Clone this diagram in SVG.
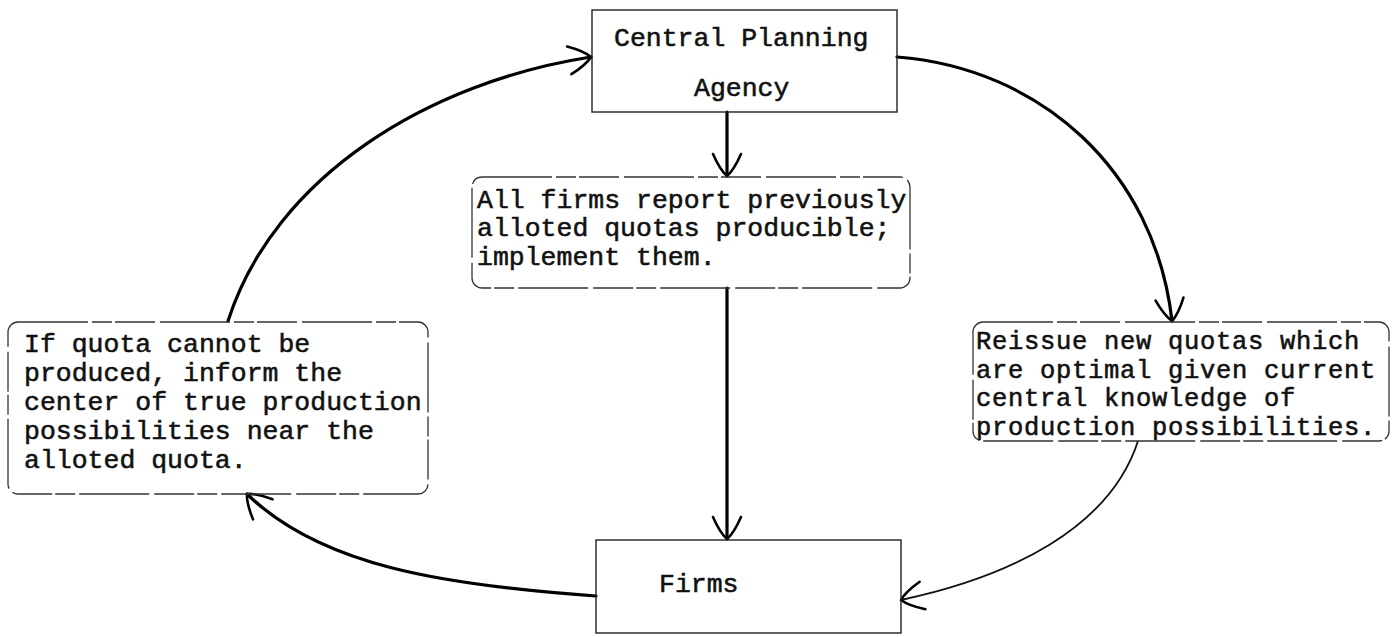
<svg xmlns="http://www.w3.org/2000/svg" width="1393" height="637" viewBox="0 0 1393 637">
  <style>
    .t { font-family: "Liberation Mono", "DejaVu Sans Mono", monospace; font-size: 26.5px; fill: #111; stroke: #111; stroke-width: 0.55; }
    .ts { font-size: 25.5px; letter-spacing: 0.7px; }
    .box { fill: none; stroke: #222; stroke-width: 1.4; }
    .rbox { fill: none; stroke: #333; stroke-width: 1.3; stroke-dasharray: 70 4 20 3 40 5; }
    .c { fill: none; stroke: #000; stroke-width: 3.2; stroke-linecap: round; }
    .thin { fill: none; stroke: #111; stroke-width: 1.8; }
  </style>
  <defs>
    <marker id="ah" markerUnits="userSpaceOnUse" markerWidth="40" markerHeight="40" refX="0" refY="0" viewBox="-24 -20 28 40" orient="auto">
      <path d="M-22,-14 Q-6,-7 0,0 M-22,14 Q-6,7 0,0" fill="none" stroke="#000" stroke-width="2.6" stroke-linecap="round"/>
    </marker>
  </defs>

  <g id="connectors">
    <path class="c" d="M727,112 L727,176" marker-end="url(#ah)"/>
    <path class="c" d="M727,288 L727,539" marker-end="url(#ah)"/>
    <path class="c" d="M897,57 C1040,68 1155,170 1172,321" marker-end="url(#ah)"/>
    <path class="thin" d="M1138,441 C1110,528 1010,577 901,600" marker-end="url(#ah)"/>
    <path class="c" d="M596,596 C440,585 320,565 247,494" marker-end="url(#ah)"/>
    <path class="c" d="M228,321 C275,175 430,82 591,57" marker-end="url(#ah)"/>
  </g>

  <g id="central-planning-agency">
    <rect class="box" x="592" y="10" width="305" height="102"/>
    <text class="t" x="614" y="46">Central Planning</text>
    <text class="t" x="694" y="96">Agency</text>
  </g>

  <g id="all-firms-report">
    <rect class="rbox" x="472" y="177" width="438" height="111" rx="10"/>
    <text class="t" x="477" y="208">All firms report previously</text>
    <text class="t" x="477" y="236">alloted quotas producible;</text>
    <text class="t" x="477" y="265">implement them.</text>
  </g>

  <g id="inform-center">
    <rect class="rbox" x="8" y="322" width="420" height="172" rx="10"/>
    <text class="t" x="24" y="352">If quota cannot be</text>
    <text class="t" x="24" y="381">produced, inform the</text>
    <text class="t" x="24" y="410">center of true production</text>
    <text class="t" x="24" y="439">possibilities near the</text>
    <text class="t" x="24" y="468">alloted quota.</text>
  </g>

  <g id="reissue-quotas">
    <rect class="rbox" x="973" y="322" width="416" height="119" rx="10"/>
    <text class="t ts" x="976" y="349">Reissue new quotas which</text>
    <text class="t ts" x="976" y="377.5">are optimal given current</text>
    <text class="t ts" x="976" y="406">central knowledge of</text>
    <text class="t ts" x="976" y="434.5">production possibilities.</text>
  </g>

  <g id="firms">
    <rect class="box" x="596" y="540" width="305" height="93"/>
    <text class="t" x="659" y="592">Firms</text>
  </g>
</svg>
